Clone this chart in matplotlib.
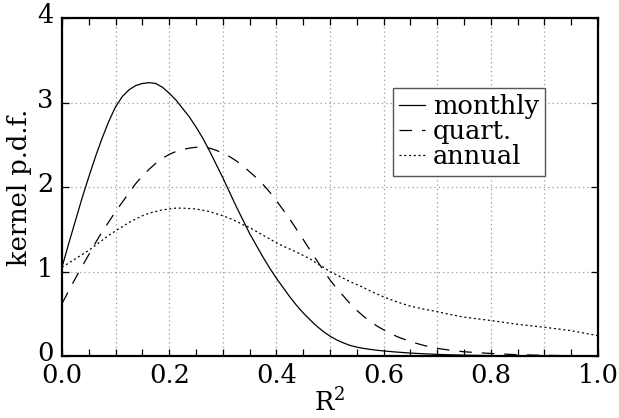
import numpy as np
import matplotlib
matplotlib.use("Agg")
import matplotlib.pyplot as plt
from matplotlib.ticker import MultipleLocator, FixedLocator
from matplotlib.transforms import ScaledTranslation

plt.rcParams['font.family'] = ['DejaVu Serif']
plt.rcParams['mathtext.fontset'] = 'dejavuserif'
plt.rcParams['mathtext.default'] = 'regular'

# ---- data ----
r2 = [0.0, 0.0125, 0.025, 0.0375, 0.05, 0.0625, 0.075, 0.0875, 0.1, 0.1125,
      0.125, 0.1375, 0.15, 0.1625, 0.175, 0.1875, 0.2, 0.2125, 0.225, 0.2375,
      0.25, 0.2625, 0.275, 0.2875, 0.3, 0.3125, 0.325, 0.3375, 0.35, 0.3625,
      0.375, 0.3875, 0.4, 0.4125, 0.425, 0.4375, 0.45, 0.4625, 0.475, 0.4875,
      0.5, 0.5125, 0.525, 0.5375, 0.55, 0.5625, 0.575, 0.5875, 0.6, 0.625,
      0.65, 0.675, 0.7, 0.725, 0.75, 0.8, 0.85, 0.9, 0.95, 1.0]

monthly = [1.05, 1.33, 1.60, 1.87, 2.12, 2.36, 2.58, 2.78, 2.95, 3.07,
           3.15, 3.20, 3.225, 3.235, 3.225, 3.18, 3.11, 3.03, 2.93, 2.83,
           2.71, 2.58, 2.43, 2.27, 2.11, 1.94, 1.77, 1.61, 1.45, 1.31,
           1.17, 1.04, 0.92, 0.81, 0.70, 0.60, 0.51, 0.43, 0.355, 0.29,
           0.235, 0.19, 0.155, 0.125, 0.105, 0.09, 0.078, 0.068, 0.06, 0.046,
           0.035, 0.026, 0.019, 0.014, 0.010, 0.005, 0.002, 0.001, 0.0, 0.0]

quart = [0.62, 0.77, 0.92, 1.06, 1.20, 1.34, 1.47, 1.59, 1.71, 1.82,
         1.93, 2.04, 2.13, 2.21, 2.28, 2.34, 2.385, 2.42, 2.445, 2.46,
         2.47, 2.47, 2.46, 2.435, 2.40, 2.36, 2.31, 2.25, 2.18, 2.11,
         2.03, 1.94, 1.84, 1.73, 1.62, 1.50, 1.38, 1.255, 1.135, 1.015,
         0.90, 0.80, 0.71, 0.62, 0.54, 0.47, 0.41, 0.355, 0.31, 0.23,
         0.17, 0.125, 0.09, 0.068, 0.05, 0.03, 0.015, 0.008, 0.003, 0.001]

annual = [1.05, 1.10, 1.15, 1.20, 1.25, 1.31, 1.37, 1.43, 1.48, 1.53,
          1.58, 1.62, 1.66, 1.69, 1.71, 1.73, 1.74, 1.75, 1.75, 1.745,
          1.74, 1.725, 1.71, 1.685, 1.66, 1.63, 1.595, 1.555, 1.52, 1.475,
          1.43, 1.385, 1.34, 1.30, 1.265, 1.23, 1.19, 1.15, 1.10, 1.05,
          1.00, 0.96, 0.92, 0.88, 0.845, 0.81, 0.77, 0.735, 0.70, 0.64,
          0.59, 0.555, 0.525, 0.49, 0.46, 0.42, 0.375, 0.34, 0.30, 0.24]

series_labels = ["monthly", "quart.", "annual"]
x_ticks = [0.0, 0.2, 0.4, 0.6, 0.8, 1.0]
x_ticklabels = ["0.0", "0.2", "0.4", "0.6", "0.8", "1.0"]
y_ticks = [0, 1, 2, 3, 4]
y_ticklabels = ["0", "1", "2", "3", "4"]

# ---- figure ----
fig = plt.figure(figsize=(6.19, 4.18), dpi=100)
ax = fig.add_axes([62/619, 1-356/418, 536/619, 338/418])

# grid (dotted, every 0.1 in x, every 1 in y)
for gx in np.arange(0.1, 1.0, 0.1):
    ax.axvline(gx, color='#999999', lw=0.9, ls=(0, (1, 2.5)), zorder=0)
for gy in [1, 2, 3]:
    ax.axhline(gy, color='#999999', lw=0.9, ls=(0, (1, 2.5)), zorder=0)

ax.plot(r2, monthly, color='black', lw=0.9, ls='-', label=series_labels[0])
ax.plot(r2, quart, color='black', lw=0.9, ls=(0, (10, 8)), label=series_labels[1])
ax.plot(r2, annual, color='black', lw=0.9, ls=(0, (1.6, 2.2)), label=series_labels[2])

ax.set_xlim(0, 1)
ax.set_ylim(0, 4)

ax.xaxis.set_major_locator(FixedLocator(x_ticks))
ax.set_xticklabels(x_ticklabels)
ax.xaxis.set_minor_locator(MultipleLocator(0.05))
ax.yaxis.set_major_locator(FixedLocator(y_ticks))
ax.set_yticklabels(y_ticklabels)

ax.tick_params(which='both', direction='in', top=True, right=True,
               length=5, width=0.9, labelsize=18.5)
ax.tick_params(axis='x', pad=5)
ax.tick_params(axis='y', pad=6)
for lbl in ax.get_yticklabels():
    lbl.set_transform(lbl.get_transform() + ScaledTranslation(0, 3.5/72, fig.dpi_scale_trans))
for s in ax.spines.values():
    s.set_linewidth(1.6)

ax.set_xlabel("R$^2$", fontsize=18.5, labelpad=0)
ax.set_ylabel("kernel p.d.f.", fontsize=18.5, labelpad=4)

leg = ax.legend(loc='upper left', bbox_to_anchor=((393-62)/536, (356-88)/338),
                fontsize=18.5, handlelength=1.0, handletextpad=0.3,
                labelspacing=0.0, borderpad=0.25, borderaxespad=0,
                fancybox=False, framealpha=1, edgecolor='#555555')
leg.get_frame().set_linewidth(1.0)

fig.savefig("out.png", dpi=100)
